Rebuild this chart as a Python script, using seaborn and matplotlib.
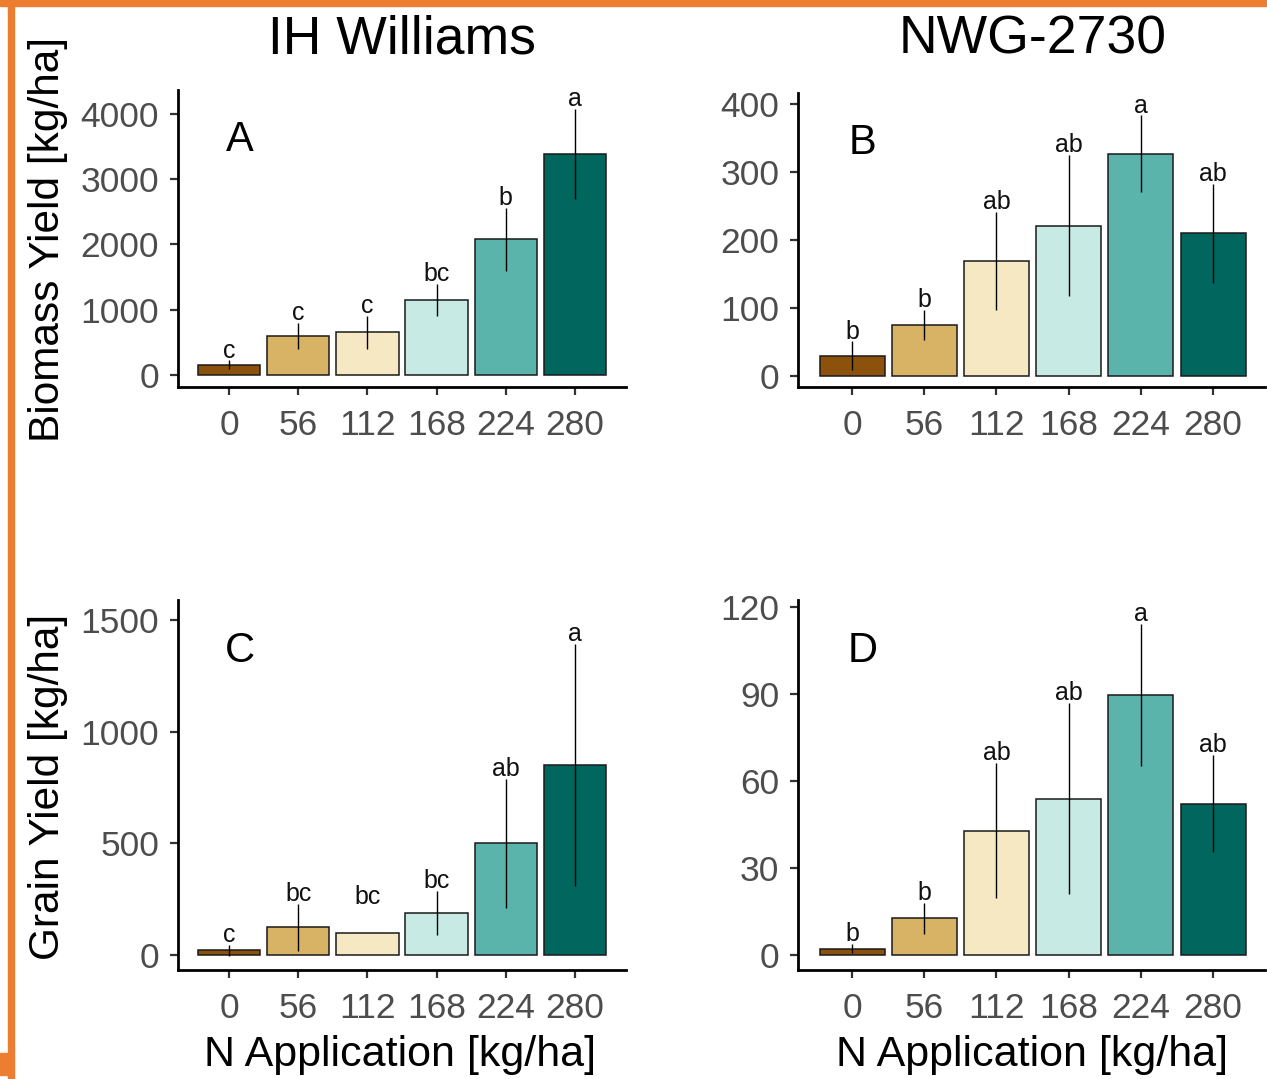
import numpy as np
import pandas as pd
import matplotlib
matplotlib.use("Agg")
import matplotlib.pyplot as plt
from matplotlib.patches import Rectangle
import seaborn as sns

# N application rates (kg/ha) and the fill colour of each rate
n_rates = ["0", "56", "112", "168", "224", "280"]
rate_colors = ["#8C510A", "#D8B365", "#F6E8C3", "#C7EAE5", "#5AB4AC", "#01665E"]

# A: IH Williams biomass yield (kg/ha)
biomass_ih = [153, 596, 652, 1141, 2074, 3383]
biomass_ih_se = [70, 199, 250, 247, 480, 690]
biomass_ih_letters = ["c", "c", "c", "bc", "b", "a"]

# B: NWG-2730 biomass yield (kg/ha)
biomass_nwg = [30, 75, 169, 221, 327, 210]
biomass_nwg_se = [21, 22, 72, 104, 56, 73]
biomass_nwg_letters = ["b", "b", "ab", "ab", "a", "ab"]

# C: IH Williams grain yield (kg/ha); no spread available at 112 kg/ha
grain_ih = [21, 124, 100, 189, 500, 852]
grain_ih_se = [24, 106, np.nan, 98, 290, 542]
grain_ih_letters = ["c", "bc", "bc", "bc", "ab", "a"]
grain_ih_label_fallback = 216

# D: NWG-2730 grain yield (kg/ha)
grain_nwg = [2.2, 12.6, 42.9, 53.9, 89.6, 52.2]
grain_nwg_se = [1.6, 5.4, 23.4, 33.0, 24.6, 16.7]
grain_nwg_letters = ["b", "b", "ab", "ab", "a", "ab"]

sns.set_style("ticks")
plt.rcParams["font.family"] = ["Liberation Sans", "DejaVu Sans"]
plt.rcParams["text.color"] = "black"

W, H = 1267, 1079
fig = plt.figure(figsize=(W / 100, H / 100), dpi=100)


def px_axes(left, right, top, bottom):
    return fig.add_axes([left / W, 1 - bottom / H, (right - left) / W, (bottom - top) / H])


def panel(ax, mean, se, letters, tag, ylim, yticks, xlim, fallback=None):
    df = pd.DataFrame({"rate": n_rates, "yield": mean})
    sns.barplot(data=df, x="rate", y="yield", hue="rate", order=n_rates,
                hue_order=n_rates, palette=rate_colors, saturation=1, width=0.9,
                edgecolor="#1a1a1a", linewidth=1.1, errorbar=None,
                legend=False, ax=ax)
    pos = np.arange(len(n_rates))
    mean = np.asarray(mean, dtype=float)
    se = np.asarray(se, dtype=float)
    ok = ~np.isnan(se)
    ax.errorbar(pos[ok], mean[ok], yerr=se[ok], fmt="none", ecolor="black",
                elinewidth=1.0, capsize=0, zorder=5)
    tops = mean + se
    if fallback is not None:
        tops = np.where(np.isnan(tops), fallback, tops)
    for x, y, t in zip(pos, tops, letters):
        ax.annotate(t, (x, y), xytext=(0, 2), textcoords="offset points",
                    ha="center", va="baseline", fontsize=18, color="#111111")
    ax.text(0.138, 0.83 if tag in "AB" else 0.862, tag, transform=ax.transAxes,
            ha="center", va="center", fontsize=30, color="black")
    ax.set_xlim(*xlim)
    ax.set_ylim(*ylim)
    ax.set_yticks(yticks)
    ax.set_xlabel("")
    ax.set_ylabel("")
    sns.despine(ax=ax)
    for s in ("left", "bottom"):
        ax.spines[s].set_linewidth(2.0)
        ax.spines[s].set_color("black")
    ax.tick_params(axis="both", length=5.5, width=1.6, color="#333333",
                   labelcolor="#4D4D4D", labelsize=25.5)
    ax.tick_params(axis="y", pad=8)
    ax.tick_params(axis="x", pad=10.5)


axA = px_axes(178, 626, 90, 387)
axB = px_axes(798, 1265, 93, 387)
axC = px_axes(178, 626, 600, 970)
axD = px_axes(798, 1265, 600, 970)

panel(axA, biomass_ih, biomass_ih_se, biomass_ih_letters, "A",
      (-185, 4360), [0, 1000, 2000, 3000, 4000], (-0.74, 5.74))
panel(axB, biomass_nwg, biomass_nwg_se, biomass_nwg_letters, "B",
      (-16, 416), [0, 100, 200, 300, 400], (-0.75, 5.72))
panel(axC, grain_ih, grain_ih_se, grain_ih_letters, "C",
      (-67, 1589), [0, 500, 1000, 1500], (-0.74, 5.74),
      fallback=grain_ih_label_fallback)
panel(axD, grain_nwg, grain_nwg_se, grain_nwg_letters, "D",
      (-5.2, 122.4), [0, 30, 60, 90, 120], (-0.75, 5.72))

# column titles, shared axis titles
fig.text(402 / W, 1 - 40 / H, "IH Williams", ha="center", va="center", fontsize=38.5)
fig.text(1033 / W, 1 - 40 / H, "NWG-2730", ha="center", va="center", fontsize=38.5)
fig.text(48 / W, 1 - 240 / H, "Biomass Yield [kg/ha]", rotation=90,
         ha="center", va="center", fontsize=30.5)
fig.text(48 / W, 1 - 787 / H, "Grain Yield [kg/ha]", rotation=90,
         ha="center", va="center", fontsize=30.5)
fig.text(400 / W, 1 - 1055 / H, "N Application [kg/ha]", ha="center",
         va="center", fontsize=31)
fig.text(1032 / W, 1 - 1055 / H, "N Application [kg/ha]", ha="center",
         va="center", fontsize=31)

# orange frame along the top and left edges
frame = "#ED7D31"
fig.patches.append(Rectangle((0, 1 - 6 / H), 1, 6 / H, transform=fig.transFigure,
                             color=frame, zorder=10))
fig.patches.append(Rectangle((8 / W, 0), 6 / W, 1, transform=fig.transFigure,
                             color=frame, zorder=10))
fig.patches.append(Rectangle((0, 4 / H), 8 / W, 22 / H, transform=fig.transFigure,
                             color=frame, zorder=10))

fig.savefig("out.png", dpi=100)
